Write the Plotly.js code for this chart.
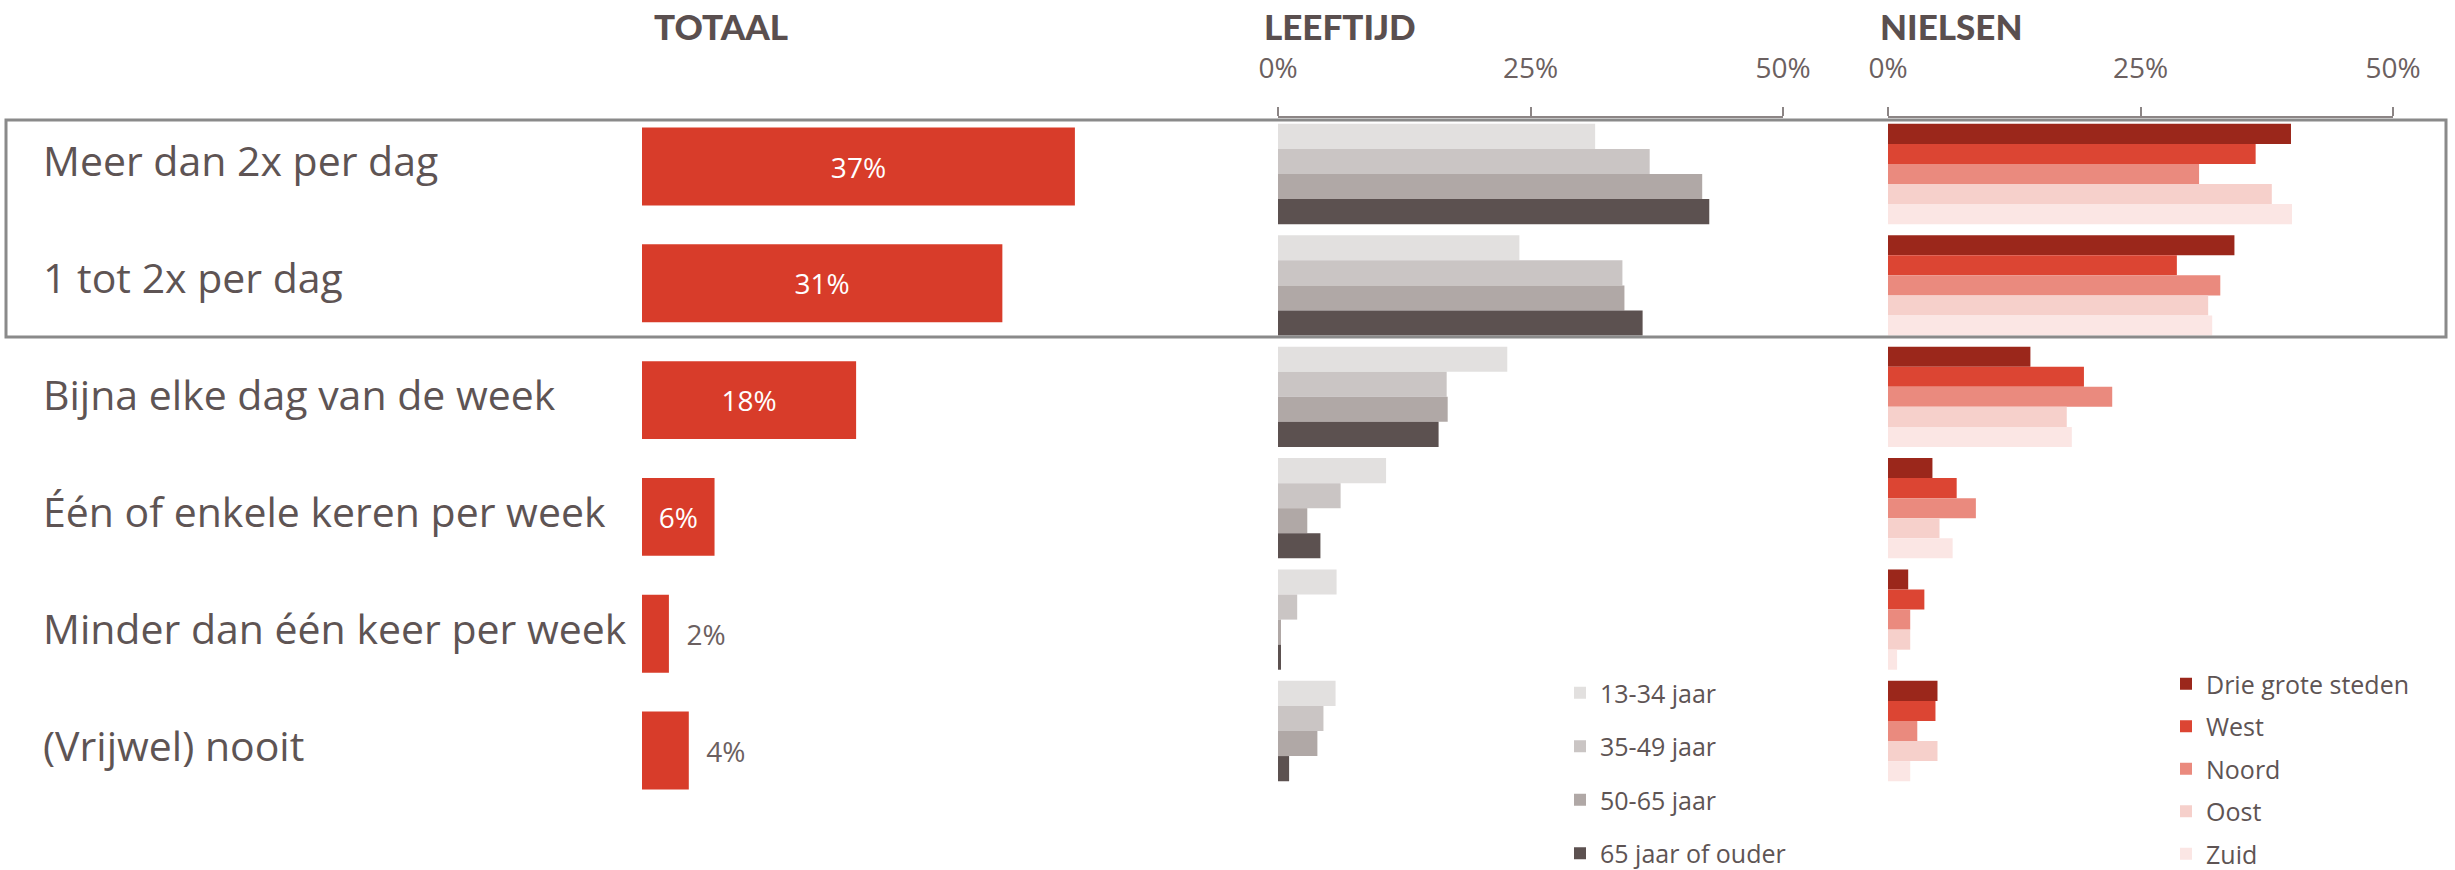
<!DOCTYPE html>
<html>
<head>
<meta charset="utf-8">
<script src="https://cdn.plot.ly/plotly-3.0.1.min.js"></script>
<style>
  html, body { margin: 0; padding: 0; background: #fff; }
  #plot { width: 2455px; height: 870px; }
</style>
</head>
<body>
<div id="plot"></div>
<script>
/* data */
const categories = [
    'Meer dan 2x per dag',
    '1 tot 2x per dag',
    'Bijna elke dag van de week',
    'Één of enkele keren per week',
    'Minder dan één keer per week',
    '(Vrijwel) nooit'
];
const totaal = [37.0, 30.8, 18.3, 6.2, 2.3, 4.0];

const leeftijdNames = ['13-34 jaar', '35-49 jaar', '50-65 jaar', '65 jaar of ouder'];
const jaar1334 = [31.4, 23.9, 22.7, 10.7, 5.8, 5.7];
const jaar3549 = [36.8, 34.1, 16.7, 6.2, 1.9, 4.5];
const jaar5065 = [42.0, 34.3, 16.8, 2.9, 0.3, 3.9];
const jaar65plus = [42.7, 36.1, 15.9, 4.2, 0.3, 1.1];

const regioNames = ['Drie grote steden', 'West', 'Noord', 'Oost', 'Zuid'];
const drieGroteSteden = [39.9, 34.3, 14.1, 4.4, 2.0, 4.9];
const west = [36.4, 28.6, 19.4, 6.8, 3.6, 4.7];
const noord = [30.8, 32.9, 22.2, 8.7, 2.2, 2.9];
const oost = [38.0, 31.7, 17.7, 5.1, 2.2, 4.9];
const zuid = [40.0, 32.1, 18.2, 6.4, 0.9, 2.2];

const tickVals = [0, 25, 50];
const tickText = ['0%', '25%', '50%'];

/* styling */
const W = 2455, H = 870;
const txtColor = '#5e5454';
const axColor = '#8c8585';
const leeftijdColors = ['#e2e0df', '#cac5c4', '#b0a8a6', '#5c5150'];
const regioColors = ['#9b271b', '#dc4533', '#ea8a7e', '#f6d0cb', '#fbe6e4'];

function px(x){ return x / W; }
function py(y){ return 1 - y / H; }

/* totaal: small values get their label outside the bar */
const totText = [];
const totPos = [];
for (let i = 0; i < totaal.length; i++) {
    if (totaal[i] < 5) {
        totText.push('\u00a0\u00a0' + Math.round(totaal[i]) + '%');
        totPos.push('outside');
    } else {
        totText.push(Math.round(totaal[i]) + '%');
        totPos.push('inside');
    }
}

const data = [];
data.push({
    type: 'bar',
    orientation: 'h',
    x: totaal,
    y: categories,
    xaxis: 'x',
    yaxis: 'y',
    width: 0.667,
    marker: {color: '#d83c2a'},
    text: totText,
    textposition: totPos,
    insidetextanchor: 'middle',
    insidetextfont: {family: 'Open Sans', size: 28, color: '#ffffff'},
    outsidetextfont: {family: 'Open Sans', size: 28, color: '#6b6060'},
    cliponaxis: false,
    showlegend: false,
    hoverinfo: 'x+y'
});

const leeftijdSeries = [jaar1334, jaar3549, jaar5065, jaar65plus];
for (let i = 0; i < leeftijdSeries.length; i++) {
    data.push({
        type: 'bar',
        orientation: 'h',
        name: leeftijdNames[i],
        x: leeftijdSeries[i],
        y: categories,
        xaxis: 'x2',
        yaxis: 'y2',
        marker: {color: leeftijdColors[i]},
        legend: 'legend',
        legendgroup: 'l' + i
    });
}

const regioSeries = [drieGroteSteden, west, noord, oost, zuid];
for (let i = 0; i < regioSeries.length; i++) {
    data.push({
        type: 'bar',
        orientation: 'h',
        name: regioNames[i],
        x: regioSeries[i],
        y: categories,
        xaxis: 'x3',
        yaxis: 'y2',
        marker: {color: regioColors[i]},
        legend: 'legend2',
        legendgroup: 'r' + i
    });
}

const pctAxis = {
    range: [0, 50],
    side: 'top',
    tickvals: tickVals,
    ticktext: tickText,
    ticks: 'outside',
    ticklen: 9,
    tickwidth: 2,
    tickcolor: axColor,
    showline: true,
    linecolor: axColor,
    linewidth: 2,
    showgrid: false,
    zeroline: false,
    ticklabelstandoff: 18,
    tickfont: {family: 'Open Sans', size: 28, color: '#6b6060'},
    fixedrange: true
};

const annotations = [];
const titles = [['TOTAAL', 652], ['LEEFTIJD', 1262], ['NIELSEN', 1878]];
titles.forEach(function(t){
    annotations.push({
        text: t[0], xref: 'paper', yref: 'paper',
        x: px(t[1]), y: py(26), xanchor: 'left', yanchor: 'middle',
        showarrow: false,
        font: {family: 'Lato', size: 35, weight: 900, color: '#5a4f4f'}
    });
});
categories.forEach(function(c){
    annotations.push({
        text: c, xref: 'paper', yref: 'y',
        x: px(41), y: c, xanchor: 'left', yanchor: 'middle', yshift: 6,
        showarrow: false,
        font: {family: 'Open Sans', size: 41, color: txtColor}
    });
});

const layout = {
    width: W,
    height: H,
    margin: {l: 0, r: 0, t: 0, b: 0, pad: 0, autoexpand: false},
    paper_bgcolor: '#ffffff',
    plot_bgcolor: 'rgba(0,0,0,0)',
    barmode: 'group',
    bargap: 0.1,
    bargroupgap: 0,
    font: {family: 'Open Sans', color: txtColor},
    xaxis: {domain: [px(642), px(1227)], range: [0, 50], anchor: 'y', visible: false, fixedrange: true},
    yaxis: {domain: [py(808.9), py(108.1)], autorange: 'reversed', anchor: 'x', visible: false, fixedrange: true},
    xaxis2: Object.assign({}, pctAxis, {domain: [px(1278), px(1783)], anchor: 'y2'}),
    xaxis3: Object.assign({}, pctAxis, {domain: [px(1888), px(2393)], anchor: 'y2'}),
    yaxis2: {domain: [py(786.7), py(118.3)], autorange: 'reversed', anchor: 'x2', visible: false, fixedrange: true},
    legend: {
        x: px(1560), y: py(670), xanchor: 'left', yanchor: 'top',
        traceorder: 'grouped', tracegroupgap: 18,
        bgcolor: 'rgba(0,0,0,0)',
        font: {family: 'Open Sans', size: 25, color: txtColor}
    },
    legend2: {
        x: px(2166), y: py(661), xanchor: 'left', yanchor: 'top',
        traceorder: 'grouped', tracegroupgap: 7,
        bgcolor: 'rgba(0,0,0,0)',
        font: {family: 'Open Sans', size: 25, color: txtColor}
    },
    shapes: [{
        type: 'rect', xref: 'paper', yref: 'paper',
        x0: px(6), x1: px(2446), y0: py(337), y1: py(120),
        line: {color: '#8a8a8a', width: 3}
    }],
    annotations: annotations
};

Plotly.newPlot('plot', data, layout, {displayModeBar: false});
</script>
</body>
</html>
